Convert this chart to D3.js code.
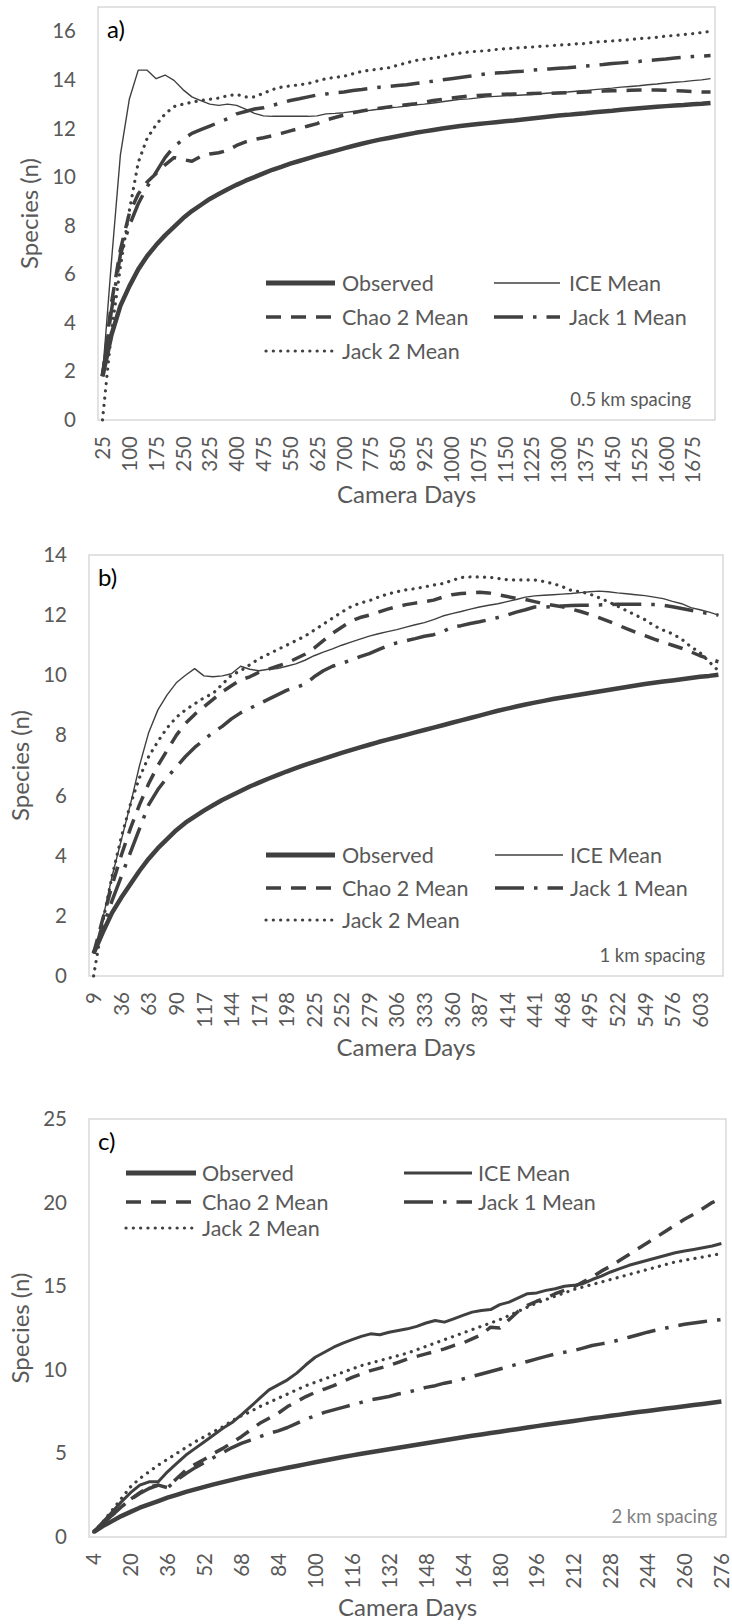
<!DOCTYPE html>
<html>
<head>
<meta charset="utf-8">
<script src="https://cdn.jsdelivr.net/npm/d3@7"></script>
<style>
  html, body { margin: 0; padding: 0; background: #fff; }
  svg { display: block; font-family: Lato, "Open Sans", sans-serif; }
</style>
</head>
<body>
<svg id="chart" width="732" height="1624"></svg>
<script>
// ---------- categories (camera days) ----------
const daysA = d3.range(25, 1726, 25);   // 0.5 km spacing
const daysB = d3.range(9, 622, 9);      // 1 km spacing
const daysC = d3.range(4, 277, 4);      // 2 km spacing

// tick labels
const ticksA = daysA.filter((d, i) => i % 3 === 0);
const ticksB = daysB.filter((d, i) => i % 3 === 0);
const ticksC = daysC.filter((d, i) => i % 4 === 0);

const yTicksA = [0, 2, 4, 6, 8, 10, 12, 14, 16];
const yTicksB = [0, 2, 4, 6, 8, 10, 12, 14];
const yTicksC = [0, 5, 10, 15, 20, 25];

const seriesNames = ["Observed", "ICE Mean", "Chao 2 Mean", "Jack 1 Mean", "Jack 2 Mean"];

// ---------- a) 0.5 km spacing ----------
const obsA = [1.8,3.5,4.7,5.5,6.2,6.75,7.2,7.6,7.95,8.3,8.6,8.85,9.1,9.3,9.5,9.68,9.85,10.0,10.15,10.3,
  10.42,10.55,10.66,10.77,10.88,10.98,11.08,11.18,11.28,11.37,11.46,11.54,11.61,11.68,11.75,11.82,11.88,11.94,12.0,12.05,
  12.1,12.14,12.18,12.22,12.26,12.3,12.33,12.37,12.41,12.45,12.49,12.53,12.56,12.6,12.63,12.67,12.7,12.73,12.77,12.8,
  12.83,12.86,12.89,12.92,12.95,12.97,13.0,13.02,13.05];
const iceA = [1.8,6.5,10.9,13.2,14.4,14.4,14.05,14.2,13.98,13.6,13.3,13.15,13.0,12.95,13.0,12.95,12.8,12.62,12.52,12.5,
  12.5,12.5,12.5,12.5,12.52,12.6,12.62,12.65,12.7,12.72,12.75,12.8,12.85,12.88,12.92,12.97,13.0,13.05,13.1,13.15,
  13.2,13.22,13.26,13.3,13.32,13.34,13.36,13.38,13.4,13.43,13.46,13.48,13.5,13.53,13.56,13.6,13.63,13.66,13.7,13.73,
  13.76,13.8,13.83,13.87,13.9,13.93,13.97,14.0,14.05];
const chaoA = [1.8,4.8,7.0,8.5,9.3,9.8,10.15,10.5,10.8,10.72,10.65,10.85,10.95,11.0,11.1,11.3,11.45,11.55,11.62,11.7,
  11.8,11.9,12.0,12.1,12.2,12.35,12.45,12.55,12.65,12.72,12.78,12.83,12.88,12.93,12.98,13.02,13.08,13.15,13.2,13.25,
  13.3,13.33,13.36,13.38,13.4,13.41,13.42,13.43,13.44,13.45,13.45,13.46,13.47,13.48,13.5,13.52,13.54,13.55,13.56,13.57,
  13.58,13.58,13.58,13.57,13.55,13.54,13.52,13.5,13.5];
const jack1A = [1.8,4.5,6.8,8.0,8.9,9.6,10.2,10.8,11.25,11.55,11.8,11.95,12.1,12.25,12.4,12.6,12.7,12.8,12.85,12.95,
  13.05,13.15,13.22,13.3,13.38,13.42,13.47,13.5,13.56,13.6,13.65,13.7,13.73,13.77,13.8,13.85,13.9,13.95,14.0,14.05,
  14.1,14.15,14.2,14.25,14.28,14.3,14.33,14.36,14.4,14.43,14.45,14.48,14.5,14.53,14.57,14.6,14.63,14.67,14.7,14.73,
  14.76,14.8,14.83,14.86,14.9,14.93,14.96,14.98,15.0];
const jack2A = [0.0,3.6,6.3,8.6,10.6,11.6,12.15,12.6,12.9,13.0,13.08,13.15,13.2,13.25,13.35,13.4,13.3,13.3,13.45,13.6,
  13.7,13.75,13.8,13.85,13.95,14.05,14.1,14.15,14.25,14.35,14.4,14.45,14.5,14.6,14.7,14.8,14.85,14.9,14.95,15.05,
  15.1,15.15,15.18,15.2,15.25,15.28,15.3,15.33,15.35,15.38,15.4,15.43,15.45,15.48,15.5,15.55,15.58,15.6,15.63,15.66,
  15.7,15.72,15.75,15.8,15.83,15.87,15.9,15.95,16.0];

// ---------- b) 1 km spacing ----------
const obsB = [0.75,1.45,2.1,2.6,3.05,3.5,3.9,4.25,4.55,4.85,5.1,5.3,5.5,5.68,5.85,6.0,6.15,6.3,6.43,6.56,
  6.68,6.8,6.91,7.02,7.12,7.22,7.32,7.42,7.51,7.6,7.69,7.78,7.86,7.94,8.02,8.1,8.18,8.26,8.34,8.42,
  8.5,8.58,8.66,8.74,8.82,8.89,8.96,9.03,9.09,9.15,9.21,9.26,9.31,9.36,9.41,9.46,9.51,9.56,9.61,9.66,
  9.71,9.75,9.79,9.83,9.87,9.91,9.95,9.98,10.02];
const iceB = [0.75,1.9,3.3,4.5,5.7,7.0,8.1,8.85,9.35,9.75,10.0,10.22,9.98,9.95,9.98,10.05,10.3,10.2,10.15,10.2,
  10.22,10.3,10.38,10.5,10.65,10.77,10.88,11.0,11.1,11.2,11.3,11.38,11.45,11.52,11.6,11.68,11.75,11.85,11.97,12.05,
  12.12,12.2,12.27,12.33,12.38,12.45,12.52,12.6,12.64,12.66,12.68,12.7,12.72,12.75,12.78,12.8,12.78,12.74,12.71,12.68,
  12.65,12.6,12.55,12.46,12.38,12.25,12.18,12.1,12.0];
const chaoB = [0.75,1.9,3.0,4.0,4.9,5.7,6.4,7.0,7.5,8.0,8.4,8.7,8.95,9.2,9.45,9.65,9.85,9.95,10.1,10.2,
  10.3,10.4,10.55,10.7,10.9,11.15,11.4,11.6,11.8,11.92,12.0,12.1,12.2,12.28,12.35,12.4,12.45,12.5,12.6,12.68,
  12.72,12.74,12.76,12.74,12.68,12.62,12.56,12.52,12.45,12.38,12.33,12.28,12.2,12.12,12.02,11.92,11.8,11.68,11.55,11.43,
  11.32,11.2,11.1,11.0,10.9,10.78,10.65,10.55,10.45];
const jack1B = [0.75,1.6,2.5,3.3,4.1,4.9,5.7,6.2,6.6,6.95,7.3,7.6,7.85,8.1,8.3,8.55,8.75,8.9,9.05,9.2,
  9.35,9.5,9.6,9.7,9.95,10.15,10.3,10.4,10.5,10.62,10.72,10.85,10.98,11.08,11.15,11.22,11.3,11.35,11.45,11.6,
  11.65,11.72,11.78,11.85,11.92,12.0,12.1,12.18,12.27,12.27,12.28,12.3,12.32,12.33,12.33,12.34,12.35,12.36,12.36,12.36,
  12.36,12.35,12.33,12.28,12.22,12.16,12.1,12.05,12.0];
const jack2B = [0.0,1.8,3.3,4.6,5.7,6.6,7.3,7.8,8.25,8.6,8.85,9.05,9.25,9.4,9.7,10.0,10.15,10.35,10.55,10.7,
  10.85,11.0,11.15,11.3,11.5,11.7,11.9,12.1,12.28,12.4,12.48,12.6,12.7,12.78,12.84,12.88,12.94,13.0,13.05,13.15,
  13.25,13.27,13.27,13.26,13.22,13.18,13.17,13.17,13.17,13.12,13.05,12.95,12.82,12.78,12.7,12.58,12.45,12.3,12.15,12.0,
  11.85,11.65,11.5,11.38,11.2,10.95,10.75,10.45,10.15];

// ---------- c) 2 km spacing ----------
const obsC = [0.3,0.65,0.95,1.25,1.5,1.75,1.95,2.15,2.35,2.52,2.7,2.85,3.0,3.15,3.28,3.42,3.55,3.68,3.8,3.92,
  4.03,4.14,4.25,4.36,4.47,4.58,4.68,4.78,4.88,4.98,5.07,5.16,5.25,5.34,5.43,5.52,5.61,5.7,5.79,5.88,
  5.96,6.05,6.13,6.22,6.3,6.38,6.46,6.55,6.63,6.71,6.79,6.86,6.94,7.02,7.1,7.17,7.25,7.32,7.4,7.47,
  7.54,7.61,7.68,7.75,7.82,7.89,7.96,8.03,8.1];
const iceC = [0.3,0.9,1.5,2.1,2.65,3.1,3.3,3.3,3.9,4.4,4.9,5.3,5.7,6.1,6.5,6.85,7.3,7.8,8.3,8.8,
  9.1,9.4,9.8,10.3,10.75,11.05,11.35,11.6,11.8,12.0,12.15,12.1,12.25,12.35,12.45,12.6,12.8,12.95,12.85,13.05,
  13.25,13.45,13.55,13.6,13.9,14.05,14.3,14.55,14.6,14.75,14.85,15.0,15.05,15.15,15.4,15.6,15.85,16.05,16.25,16.4,
  16.55,16.7,16.85,17.0,17.1,17.2,17.3,17.4,17.55];
const chaoC = [0.3,0.8,1.3,1.8,2.25,2.65,3.0,3.1,2.95,3.5,4.0,4.35,4.65,5.0,5.3,5.65,6.0,6.4,6.8,7.1,
  7.4,7.8,8.1,8.4,8.65,8.85,9.05,9.3,9.55,9.75,9.95,10.1,10.25,10.45,10.65,10.8,10.95,11.1,11.25,11.45,
  11.6,11.85,12.1,12.55,12.5,13.0,13.5,13.85,14.1,14.3,14.55,14.75,14.95,15.25,15.55,15.9,16.2,16.55,16.9,17.25,
  17.6,17.95,18.3,18.65,19.0,19.3,19.65,20.0,20.25];
const jack1C = [0.3,0.8,1.3,1.8,2.25,2.6,2.9,3.1,2.95,3.4,3.8,4.15,4.45,4.75,5.05,5.35,5.6,5.8,6.0,6.2,
  6.35,6.55,6.8,7.05,7.25,7.45,7.6,7.75,7.9,8.05,8.2,8.3,8.4,8.55,8.65,8.8,8.95,9.05,9.2,9.3,
  9.45,9.6,9.75,9.9,10.05,10.2,10.35,10.5,10.65,10.8,10.95,11.05,11.15,11.3,11.45,11.55,11.65,11.8,11.95,12.1,
  12.25,12.38,12.5,12.62,12.72,12.8,12.88,12.95,13.0];
const jack2C = [0.3,0.9,1.6,2.3,3.0,3.5,3.9,4.3,4.65,5.0,5.35,5.7,6.0,6.3,6.6,6.95,7.25,7.5,7.8,8.05,
  8.3,8.55,8.8,9.05,9.25,9.45,9.65,9.85,10.05,10.25,10.4,10.55,10.7,10.85,11.0,11.2,11.4,11.6,11.8,12.0,
  12.2,12.4,12.6,12.8,13.0,13.25,13.5,13.75,14.0,14.2,14.4,14.6,14.8,14.95,15.1,15.25,15.4,15.55,15.7,15.85,
  16.0,16.15,16.3,16.45,16.55,16.65,16.75,16.85,16.95];

// ---------- layout & styling ----------
const INK = "#404040";
const TEXT = "#595959";
const FRAME = "#d9d9d9";

const panels = [
  { tag: "a)", note: "0.5 km spacing", noteColor: TEXT, noteInset: 24, days: daysA, ticks: ticksA, yTicks: yTicksA, yMax: 17,
    series: [obsA, iceA, chaoA, jack1A, jack2A], iceWidth: 1.4,
    box: { l: 98, r: 715, t: 7, b: 420 }, yTitleX: 30, xTitleY: 495,
    legend: { cols: [[266, 335, 342], [494, 560, 569]], rows: [283, 317, 351] } },
  { tag: "b)", note: "1 km spacing", noteColor: TEXT, noteInset: 18, days: daysB, ticks: ticksB, yTicks: yTicksB, yMax: 14,
    series: [obsB, iceB, chaoB, jack1B, jack2B], iceWidth: 1.4,
    box: { l: 89, r: 723, t: 555, b: 976 }, yTitleX: 21, xTitleY: 1048,
    legend: { cols: [[266, 335, 342], [495, 563, 570]], rows: [855, 888, 920] } },
  { tag: "c)", note: "2 km spacing", noteColor: "#7f7f7f", noteInset: 9, days: daysC, ticks: ticksC, yTicks: yTicksC, yMax: 25,
    series: [obsC, iceC, chaoC, jack1C, jack2C], iceWidth: 3,
    box: { l: 89, r: 726, t: 1119, b: 1537 }, yTitleX: 21, xTitleY: 1608,
    legend: { cols: [[126, 196, 202], [404, 472, 478]], rows: [1173, 1202, 1228] } }
];

function styleFor(name, p) {
  switch (name) {
    case "Observed":    return { w: 4.5, dash: null, cap: "butt" };
    case "ICE Mean":    return { w: p.iceWidth, dash: null, cap: "butt" };
    case "Chao 2 Mean": return { w: 3.5, dash: "15 10", cap: "butt" };
    case "Jack 1 Mean": return { w: 3.5, dash: "29 10 3.5 10", cap: "butt" };
    case "Jack 2 Mean": return { w: 3.2, dash: "0.1 7.2", cap: "round" };
  }
}

const svg = d3.select("#chart");

panels.forEach(p => {
  const g = svg.append("g");
  const { l, r, t, b } = p.box;

  const x = d3.scalePoint().domain(p.days).range([l, r]).padding(0.5);
  const y = d3.scaleLinear().domain([0, p.yMax]).range([b, t]);

  // plot frame
  g.append("rect")
    .attr("x", l).attr("y", t).attr("width", r - l).attr("height", b - t)
    .attr("fill", "none").attr("stroke", FRAME).attr("stroke-width", 1.5);

  // y axis labels
  const ya = g.append("g").attr("transform", `translate(${l},0)`)
    .call(d3.axisLeft(y).tickValues(p.yTicks).tickSize(0).tickPadding(22));
  ya.select(".domain").remove();
  ya.selectAll("text").attr("fill", TEXT).attr("font-size", 20.5)
    .attr("font-family", "Lato, sans-serif");

  // x axis labels, rotated
  const xa = g.append("g").attr("transform", `translate(0,${b})`)
    .call(d3.axisBottom(x).tickValues(p.ticks).tickSize(0));
  xa.select(".domain").remove();
  xa.selectAll("text")
    .attr("fill", TEXT).attr("font-size", 20.5).attr("font-family", "Lato, sans-serif")
    .attr("x", 0).attr("y", 0).attr("dy", "0.35em")
    .attr("text-anchor", "end")
    .attr("transform", "translate(0,16) rotate(-90)");

  // axis titles
  g.append("text")
    .attr("transform", `translate(${p.yTitleX},${(t + b) / 2}) rotate(-90)`)
    .attr("text-anchor", "middle").attr("dy", "0.35em")
    .attr("fill", TEXT).attr("font-size", 24).text("Species (n)");
  g.append("text")
    .attr("x", (l + r) / 2).attr("y", p.xTitleY).attr("dy", "0.35em")
    .attr("text-anchor", "middle").attr("fill", TEXT).attr("font-size", 24).text("Camera Days");

  // series lines
  p.series.forEach((vals, k) => {
    const name = seriesNames[k];
    const s = styleFor(name, p);
    const line = d3.line().x((d, i) => x(p.days[i])).y(d => y(d));
    g.append("path")
      .datum(vals)
      .attr("d", line)
      .attr("fill", "none")
      .attr("stroke", INK)
      .attr("stroke-width", s.w)
      .attr("stroke-linejoin", "round")
      .attr("stroke-linecap", s.cap)
      .attr("stroke-dasharray", s.dash);
  });

  // legend
  const slots = [[0, 0], [0, 1], [1, 0], [1, 1], [2, 0]];
  seriesNames.forEach((name, k) => {
    const [row, col] = slots[k];
    const [x0, x1, xt] = p.legend.cols[col];
    const yy = p.legend.rows[row];
    const s = styleFor(name, p);
    g.append("line")
      .attr("x1", x0).attr("x2", x1).attr("y1", yy).attr("y2", yy)
      .attr("stroke", INK)
      .attr("stroke-width", name === "Observed" ? 5 : s.w)
      .attr("stroke-linecap", s.cap)
      .attr("stroke-dasharray", s.dash);
    g.append("text")
      .attr("x", xt).attr("y", yy).attr("dy", "0.35em")
      .attr("fill", TEXT).attr("font-size", 21.5).text(name);
  });

  // panel tag and spacing note
  g.append("text")
    .attr("x", l + 9).attr("y", t + 23).attr("dy", "0.35em")
    .attr("fill", "#000").attr("font-size", 24).text(p.tag);
  g.append("text")
    .attr("x", r - p.noteInset).attr("y", b - 20).attr("dy", "0.35em")
    .attr("text-anchor", "end").attr("fill", p.noteColor).attr("font-size", 18.5).text(p.note);
});
</script>
</body>
</html>
